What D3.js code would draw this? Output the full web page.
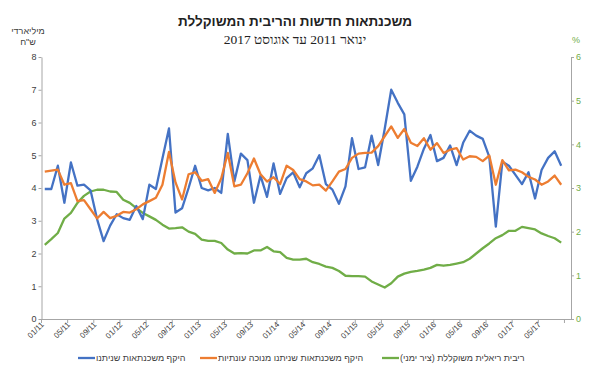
<!DOCTYPE html>
<html>
<head>
<meta charset="utf-8">
<script src="https://cdn.jsdelivr.net/npm/d3@7"></script>
<style>
  body { margin: 0; background: #fff; }
  text { font-family: "Liberation Sans", Arial, sans-serif; }
</style>
</head>
<body>
<div id="chart"></div>
<script>
// monthly data, Jan 2011 - Aug 2017
const tickLabels = ["01/11", "05/11", "09/11", "01/12", "05/12", "09/12", "01/13", "05/13", "09/13", "01/14",
                    "05/14", "09/14", "01/15", "05/15", "09/15", "01/16", "05/16", "09/16", "01/17", "05/17"]

// new mortgages (billion NIS)
const volume = [3.97, 3.97, 4.68, 3.55, 4.78, 4.07, 4.1, 3.93, 3.05, 2.38,
                2.85, 3.2, 3.08, 3.03, 3.45, 3.05, 4.1, 3.97, 4.9, 5.82,
                3.25, 3.38, 4.0, 4.68, 4.0, 3.93, 4.0, 3.85, 5.65, 4.2,
                5.05, 4.85, 3.55, 4.38, 3.73, 4.75, 3.82, 4.3, 4.48, 4.02,
                4.45, 4.6, 5.0, 4.12, 3.95, 3.52, 4.05, 5.52, 4.58, 4.63,
                5.6, 4.7, 5.8, 7.0, 6.6, 6.25, 4.22, 4.65, 5.2, 5.62,
                4.82, 4.92, 5.3, 4.7, 5.38, 5.75, 5.6, 5.5, 4.95, 2.82,
                4.8, 4.68, 4.4, 4.12, 4.48, 3.68, 4.55, 4.92, 5.12, 4.68]

// seasonally adjusted
const adjusted = [4.5, 4.53, 4.56, 4.1, 4.15, 3.6, 3.63, 3.35, 3.07, 3.27,
                  3.08, 3.15, 3.27, 3.25, 3.35, 3.5, 3.6, 3.7, 4.1, 5.1,
                  4.17, 3.65, 4.42, 4.48, 4.22, 4.27, 3.85, 4.3, 5.07, 4.05,
                  4.1, 4.45, 4.9, 4.42, 4.2, 4.33, 4.12, 4.68, 4.55, 4.27,
                  4.2, 4.08, 4.1, 3.92, 4.2, 4.5, 4.58, 4.92, 5.05, 5.07,
                  5.08, 5.28, 5.58, 5.88, 5.53, 5.8, 5.38, 5.28, 5.52, 5.17,
                  5.37, 5.07, 5.17, 5.22, 4.87, 4.97, 4.95, 4.82, 4.99, 4.1,
                  4.85, 4.54, 4.56, 4.48, 4.34, 4.26, 4.1, 4.2, 4.38, 4.1]

// weighted real interest rate (%), right axis
const rate = [1.7, 1.83, 1.97, 2.3, 2.43, 2.66, 2.82, 2.92, 2.96, 2.96,
              2.92, 2.91, 2.73, 2.66, 2.54, 2.43, 2.35, 2.27, 2.16, 2.07,
              2.08, 2.1, 2.0, 1.95, 1.82, 1.79, 1.79, 1.74, 1.59, 1.5,
              1.51, 1.5, 1.57, 1.57, 1.65, 1.55, 1.53, 1.4, 1.36, 1.36,
              1.38, 1.3, 1.26, 1.2, 1.17, 1.1, 0.99, 0.98, 0.98, 0.97,
              0.86, 0.79, 0.72, 0.82, 0.97, 1.04, 1.08, 1.1, 1.13, 1.17,
              1.24, 1.22, 1.24, 1.27, 1.3, 1.38, 1.5, 1.62, 1.73, 1.85,
              1.92, 2.02, 2.02, 2.11, 2.08, 2.05, 1.96, 1.9, 1.85, 1.75]

const seriesNames = ["היקף משכנתאות שניתנו", "היקף משכנתאות שניתנו מנוכה עונתיות", "ריבית ריאלית משוקללת (ציר ימני)"]
const colors = ["#4472c4", "#ed7d31", "#70ad47"]

const RLM = "\u200f"
const width = 590
const height = 374
const plotLeft = 41.5, plotRight = 571, plotTop = 57, plotBottom = 319

let svg = d3.select("#chart")
            .append("svg")
            .attr("width", width)
            .attr("height", height)

// 81 slots on the axis, the last one is empty
let xScale = d3.scaleBand()
               .domain(d3.range(81))
               .range([plotLeft, plotRight])
let bw = xScale.bandwidth()
let xPos = i => xScale(i) + bw / 2

let yLeft = d3.scaleLinear().domain([0, 8]).range([plotBottom, plotTop])
let yRight = d3.scaleLinear().domain([0, 6]).range([plotBottom, plotTop])

//titles
svg.append("text")
   .attr("x", 295).attr("y", 26)
   .attr("text-anchor", "middle")
   .style("font-size", "13.5px").style("font-weight", "bold").style("fill", "#222")
   .text(RLM + "משכנתאות חדשות והריבית המשוקללת" + RLM)

svg.append("text")
   .attr("x", 295).attr("y", 44)
   .attr("text-anchor", "middle")
   .style("font-family", "'Liberation Serif', serif")
   .style("font-size", "13.5px").style("fill", "#222")
   .text(RLM + "ינואר 2011 עד אוגוסט 2017" + RLM)

svg.append("text")
   .attr("x", 28).attr("y", 34)
   .attr("text-anchor", "middle")
   .style("font-size", "9px").style("fill", "#404040")
   .text(RLM + "מיליארדי" + RLM)
svg.append("text")
   .attr("x", 28).attr("y", 45)
   .attr("text-anchor", "middle")
   .style("font-size", "9px").style("fill", "#404040")
   .text(RLM + "ש\"ח" + RLM)
svg.append("text")
   .attr("x", 576).attr("y", 43)
   .attr("text-anchor", "middle")
   .style("font-size", "9px").style("fill", "#70ad47")
   .text("%")

//axes
let xAxis = d3.axisBottom(xScale)
              .tickValues(d3.range(0, 81, 4))
              .tickSize(4)
              .tickFormat("")
              .tickSizeOuter(0)
let gx = svg.append("g")
            .attr("transform", `translate(0, ${plotBottom})`)
            .call(xAxis)
gx.selectAll(".tick").attr("transform", d => `translate(${xScale(d)}, 0)`)
gx.selectAll(".tick text").remove()
gx.selectAll(".tick")
  .filter(d => d / 4 < tickLabels.length)
  .append("text")
  .attr("transform", "translate(3, 6) rotate(-45)")
  .attr("text-anchor", "end")
  .style("font-size", "8px").style("fill", "#404040")
  .text(d => tickLabels[d / 4])

let gl = svg.append("g")
            .attr("transform", `translate(${plotLeft}, 0)`)
            .call(d3.axisLeft(yLeft).ticks(8).tickSize(3).tickSizeOuter(0))
gl.selectAll("text").style("font-size", "9px").style("fill", "#404040").attr("x", -5)

let gr = svg.append("g")
            .attr("transform", `translate(${plotRight}, 0)`)
            .call(d3.axisRight(yRight).ticks(6).tickSize(3).tickSizeOuter(0))
gr.selectAll("text").style("font-size", "9px").style("fill", "#70ad47").attr("x", 5)

svg.selectAll(".domain, .tick line").attr("stroke", "#a6a6a6")

//lines
let lineLeft = d3.line().x((d, i) => xPos(i)).y(d => yLeft(d))
let lineRight = d3.line().x((d, i) => xPos(i)).y(d => yRight(d))

svg.append("path").datum(rate)
   .attr("d", lineRight).attr("fill", "none")
   .attr("stroke", colors[2]).attr("stroke-width", 2.3).attr("stroke-linejoin", "round")
svg.append("path").datum(volume)
   .attr("d", lineLeft).attr("fill", "none")
   .attr("stroke", colors[0]).attr("stroke-width", 2.3).attr("stroke-linejoin", "round")
svg.append("path").datum(adjusted)
   .attr("d", lineLeft).attr("fill", "none")
   .attr("stroke", colors[1]).attr("stroke-width", 2.3).attr("stroke-linejoin", "round")

//legend
let legendX = [78, 200, 382]
let legend = svg.append("g").attr("id", "legend")
seriesNames.forEach((name, i) => {
  legend.append("line")
        .attr("x1", legendX[i]).attr("x2", legendX[i] + 17)
        .attr("y1", 358).attr("y2", 358)
        .attr("stroke", colors[i]).attr("stroke-width", 2.3)
  legend.append("text")
        .attr("x", legendX[i] + 18).attr("y", 361)
        .style("font-size", "9px").style("fill", "#404040")
        .text(RLM + name + RLM)
})
</script>
</body>
</html>
